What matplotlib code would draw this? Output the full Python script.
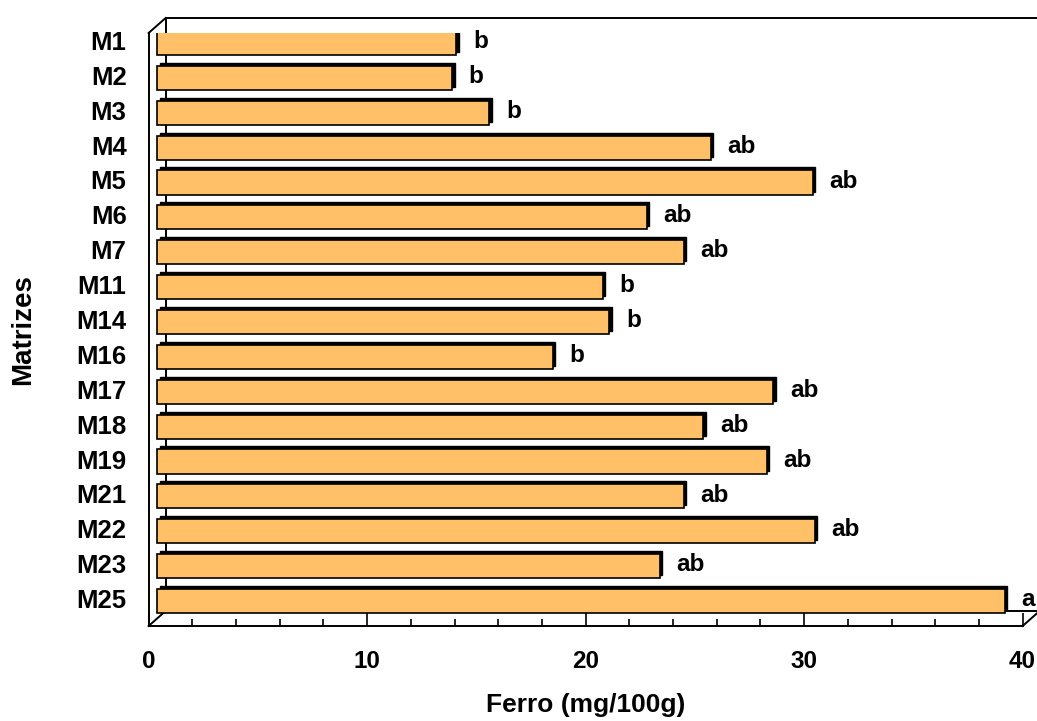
import matplotlib.pyplot as plt
import matplotlib.transforms as mtransforms
from matplotlib.ticker import MultipleLocator

# iron content per matrix, with the letters from the mean comparison test
matrizes = ['M1', 'M2', 'M3', 'M4', 'M5', 'M6', 'M7', 'M11', 'M14', 'M16',
            'M17', 'M18', 'M19', 'M21', 'M22', 'M23', 'M25']
ferro = [13.7, 13.5, 15.2, 25.35, 30.0, 22.4, 24.1, 20.4, 20.7, 18.1,
         28.2, 25.0, 27.9, 24.1, 30.1, 23.0, 38.8]
letras = ['b', 'b', 'b', 'ab', 'ab', 'ab', 'ab', 'b', 'b', 'b',
          'ab', 'ab', 'ab', 'ab', 'ab', 'ab', 'a']

plt.rcParams['font.family'] = ['Liberation Sans', 'DejaVu Sans']
plt.rcParams['font.weight'] = 'bold'

fig = plt.figure(figsize=(10.37, 7.21), dpi=100)
ax = fig.add_axes([148.6 / 1037, 95 / 721, 874 / 1037, 593 / 721])
ax.set_xlim(0, 40)
ax.set_ylim(len(matrizes) - 0.5, -0.5)

def shift(dx, dy):
    # offset in pixels (figure is at 100 dpi)
    return mtransforms.ScaledTranslation(dx / 100, dy / 100, fig.dpi_scale_trans)

# the plot box has some depth: back wall is up and to the right
depth_x, depth_y = 17, 15
back = ax.transAxes + shift(depth_x, depth_y)
kw = dict(color='black', lw=1.4, clip_on=False)
ax.plot([0, 0], [0, 1], transform=back, **kw)
ax.plot([0, 1.03], [1, 1], transform=back, **kw)
ax.plot([0, 1.03], [0, 0], transform=back, **kw)
# corner edges joining front and back
for corner in [(0, 1), (0, 0), (1, 0)]:
    x0, y0 = ax.transAxes.transform(corner)
    ax.plot([x0, x0 + depth_x], [y0, y0 + depth_y],
            transform=mtransforms.IdentityTransform(), **kw)

# bars sit half way in the depth
bar_trans = ax.transData + shift(depth_x / 2, depth_y / 2)
ypos = list(range(len(matrizes)))
# dark extrusion behind each bar
ax.barh(ypos, ferro, height=0.69, color='black', edgecolor='black',
        transform=bar_trans + shift(2.5, 3), zorder=2)
ax.barh(ypos, ferro, height=0.69, color='#FFC068', edgecolor='black',
        linewidth=1.2, transform=bar_trans, zorder=3)

for y, v, l in zip(ypos, ferro, letras):
    ax.annotate(l, xy=(v, y), xycoords=bar_trans, xytext=(12, 1),
                textcoords='offset points', ha='left', va='center',
                fontsize=17.5, fontweight='bold', zorder=4)

# category labels, aligned with the bars
lab_trans = mtransforms.blended_transform_factory(ax.transAxes, ax.transData) + shift(-22, depth_y / 2)
for y, m in zip(ypos, matrizes):
    ax.text(0, y, m, transform=lab_trans, ha='right', va='center',
            fontsize=18.5, fontweight='bold')

ax.set_yticks([])
for s in ['top', 'right']:
    ax.spines[s].set_visible(False)
for s in ['left', 'bottom']:
    ax.spines[s].set_linewidth(1.4)

ax.xaxis.set_major_locator(MultipleLocator(10))
ax.xaxis.set_minor_locator(MultipleLocator(2))
ax.tick_params(axis='x', which='major', direction='in', length=9.5, width=1.2,
               pad=17, labelsize=17.5)
ax.tick_params(axis='x', which='minor', direction='in', length=5, width=1.2)
for t in ax.get_xticklabels():
    t.set_fontweight('bold')

ax.set_xlabel('Ferro (mg/100g)', fontsize=19, fontweight='bold', labelpad=15)
ax.set_ylabel('Matrizes', fontsize=20, fontweight='bold', labelpad=81)
ax.patch.set_visible(False)

fig.savefig('out.png', dpi=100)
